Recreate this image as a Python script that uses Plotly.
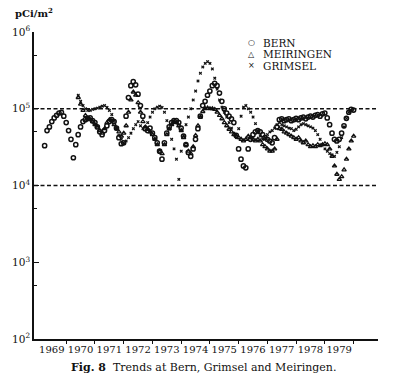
import plotly.graph_objects as go

# ---------------- data (values in thousands of pCi/m^2, monthly) ----------------
bern_start = 1969.25
bern_k = [33, 52, 58, 68, 76, 82, 88, 90, 80,
          66, 52, 40, 23, 34, 46, 58, 68, 72, 75, 76, 70,
          66, 58, 50, 46, 52, 60, 68, 72, 68, 56, 42, 35,
          36, 80, 140, 200, 225, 205, 155, 110, 80, 55, 52, 56,
          48, 42, 36, 28, 22, 36, 48, 58, 66, 70, 70, 66,
          56, 44, 34, 27, 24, 30, 40, 55, 80, 110, 125, 150,
          170, 200, 215, 200, 160, 125, 100, 88, 80, 74, 66, 45,
          30, 22, 18, 17, 30, 40, 46, 50, 52, 50, 46, 42,
          40, 38, 36, 42, 58, 72, 74, 70, 72, 74, 70, 72,
          75, 72, 76, 78, 74, 78, 80, 78, 82, 84, 80, 86,
          88, 76, 62, 48, 40, 38, 40, 48, 60, 75, 90, 98,
          96]

meir_start = 1970.42
meir_k = [140, 115, 95, 82, 74, 72, 68,
          62, 58, 52, 48, 55, 66, 72, 70, 62, 55, 50, 44,
          48, 60, 90, 130, 165, 150, 120, 90, 68, 58, 54, 50,
          46, 40, 34, 28, 26, 34, 46, 55, 62, 68, 66, 60,
          52, 42, 34, 28, 26, 32, 45, 60, 78, 92, 100, 102,
          100, 100, 98, 90, 82, 74, 66, 60, 54, 50, 46, 44,
          42, 40, 38, 40, 44, 42, 40, 38, 40, 38, 34, 32,
          30, 28, 28, 30, 40, 55, 54, 50, 48, 46, 44, 42,
          40, 42, 38, 36, 38, 34, 32, 33, 32, 34, 33, 34,
          35, 34, 30, 24, 18, 14, 12, 13, 16, 22, 30, 38,
          44]

grim_start = 1970.42
grim_k = [150, 125, 110, 100, 95, 95, 98,
          100, 102, 105, 108, 110, 104, 95, 84, 70, 55, 45, 40,
          36, 38, 42, 48, 55, 62, 68, 60, 55, 58, 66, 78,
          90, 100, 105, 108, 104, 90, 70, 54, 40, 30, 22, 12,
          28, 45, 62, 78, 100, 130, 170, 230, 290, 350, 390, 410,
          390, 330, 250, 180, 130, 105, 90, 78, 66, 56, 48, 42,
          55, 80, 105, 110, 100, 90, 78, 64, 52, 44, 40, 42,
          46, 50, 52, 56, 62, 66, 62, 60, 58, 56, 55, 52,
          54, 58, 62, 64, 62, 60, 58, 56, 52, 46, 40, 34,
          30, 28, 26, 25, 24, 27, 32, 42, 58, 75, 90, 95]

years = [1969, 1970, 1971, 1972, 1973, 1974, 1975, 1976, 1977, 1978, 1979]
y_tickvals = [1e2, 1e3, 1e4, 1e5, 1e6]
y_ticktext = ["10<sup>2</sup>", "10<sup>3</sup>", "10<sup>4</sup>", "10<sup>5</sup>", "10<sup>6</sup>"]
y_minor = [5e2, 5e3, 5e4, 5e5]
ref_levels = [1e4, 1e5]


def months(start, n):
    return [start + i / 12 for i in range(n)]


SERIF = "DejaVu Serif"
INK = "#111111"

fig = go.Figure()
fig.add_trace(go.Scatter(
    x=months(bern_start, len(bern_k)), y=[v * 1000 for v in bern_k],
    mode="markers", name="BERN",
    marker=dict(symbol="circle-open", size=4.2, color=INK, line=dict(width=1.5, color=INK))))
fig.add_trace(go.Scatter(
    x=months(meir_start, len(meir_k)), y=[v * 1000 for v in meir_k],
    mode="markers", name="MEIRINGEN",
    marker=dict(symbol="triangle-up-open", size=3.8, color=INK, line=dict(width=1.3, color=INK))))
fig.add_trace(go.Scatter(
    x=months(grim_start, len(grim_k)), y=[v * 1000 for v in grim_k],
    mode="markers", name="GRIMSEL",
    marker=dict(symbol="x", size=3, color=INK, line=dict(width=0))))

for lv in ref_levels:
    fig.add_shape(type="line", xref="paper", x0=0, x1=1, yref="y", y0=lv, y1=lv,
                  line=dict(color=INK, width=1.3, dash="4px,2.5px"), layer="below")

fig.update_layout(
    width=396, height=385,
    margin=dict(l=25, r=18, t=32, b=46),
    paper_bgcolor="white", plot_bgcolor="white",
    showlegend=False,
    font=dict(family=SERIF, size=11, color=INK),
    xaxis=dict(
        range=[1968.88, 1980.85], showgrid=False, zeroline=False,
        showline=True, linecolor=INK, linewidth=1.8,
        tickvals=[y + 0.5 for y in years], ticktext=[str(y) for y in years],
        ticks="", tickangle=0, tickfont=dict(family=SERIF, size=10, color=INK),
        minor=dict(tickvals=[y + 1 for y in years], ticks="outside", ticklen=3,
                   tickcolor=INK, tickwidth=1, showgrid=False),
    ),
    yaxis=dict(
        type="log", range=[2, 6], showgrid=False, zeroline=False,
        showline=True, linecolor=INK, linewidth=1.6,
        tickvals=y_tickvals, ticktext=y_ticktext,
        ticks="inside", ticklen=5, tickwidth=1.2, tickcolor=INK,
        tickfont=dict(family=SERIF, size=10.5, color=INK),
        minor=dict(tickvals=y_minor, ticks="inside", ticklen=3, tickcolor=INK,
                   tickwidth=1, showgrid=False),
    ),
)

# axis unit label
fig.add_annotation(text="<b>pCi/m<sup>2</sup></b>", xref="paper", yref="paper",
                   x=-0.062, y=1.062, xanchor="left", yanchor="middle",
                   showarrow=False, font=dict(family=SERIF, size=10, color=INK))

# legend (drawn as text)
legend_rows = [("○", "BERN", 0.965), ("△", "MEIRINGEN", 0.928), ("×", "GRIMSEL", 0.890)]
for sym, label, yy in legend_rows:
    fig.add_annotation(text=sym, xref="paper", yref="paper", x=0.632, y=yy,
                       xanchor="center", yanchor="middle", showarrow=False,
                       font=dict(family="DejaVu Sans", size=8, color=INK))
    fig.add_annotation(text=label, xref="paper", yref="paper", x=0.661, y=yy,
                       xanchor="left", yanchor="middle", showarrow=False,
                       font=dict(family=SERIF, size=10.5, color=INK))

# caption
fig.add_annotation(text="<b>Fig. 8</b>  Trends at Bern, Grimsel and Meiringen.",
                   xref="paper", yref="paper", x=0.493, y=-0.094,
                   xanchor="center", yanchor="middle", showarrow=False,
                   font=dict(family=SERIF, size=11, color=INK))

fig.write_html("out.html")
